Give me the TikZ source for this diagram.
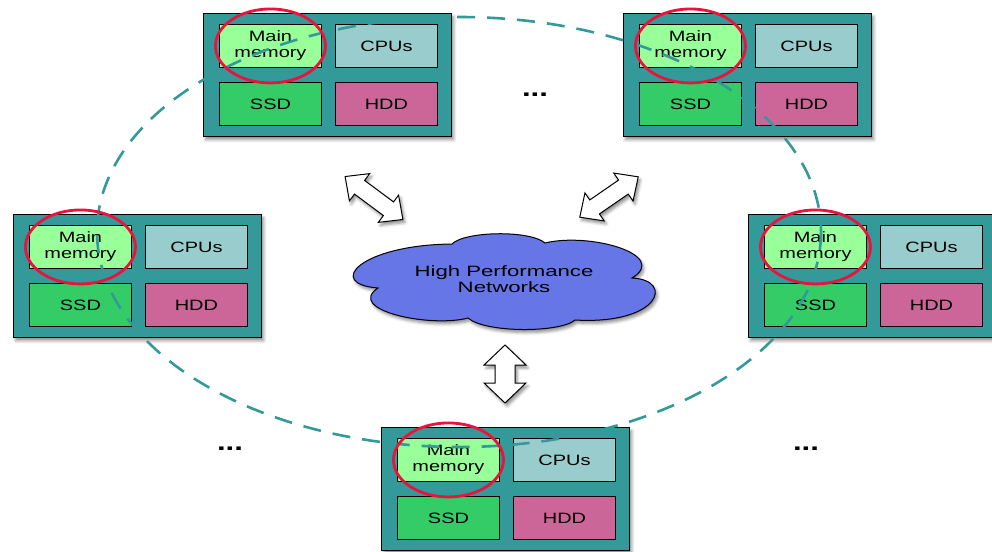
\documentclass[tikz,border=0pt]{standalone}
\usepackage{fontspec}
\usepackage{graphicx}
\setmainfont{Liberation Sans}
\usetikzlibrary{shapes.geometric,shadows.blur}

\definecolor{teal}{RGB}{51,153,153}
\definecolor{memfill}{RGB}{153,255,153}
\definecolor{cpufill}{RGB}{153,204,204}
\definecolor{ssdfill}{RGB}{51,204,102}
\definecolor{hddfill}{RGB}{204,102,153}
\definecolor{netfill}{RGB}{102,118,230}
\definecolor{ringred}{RGB}{236,18,62}

% horizontally widened label text
\newcommand{\wide}[2][1.33]{\scalebox{#1}[1]{#2}}
\newcommand{\lbl}[2][1.33]{\wide[#1]{\begin{tabular}{@{}c@{}}#2\end{tabular}}}

\tikzset{
  softshadow/.style={blur shadow={shadow xshift=2pt, shadow yshift=-3pt,
      shadow blur radius=3pt, shadow opacity=45}},
  serverbox/.style={draw=black, line width=1.3pt, fill=teal, rectangle,
      minimum width=248pt, minimum height=123pt, inner sep=0pt,
      anchor=north west, softshadow},
  partbox/.style={draw=black, line width=0.9pt, rectangle,
      minimum width=102pt, minimum height=43pt, inner sep=0pt,
      anchor=north west, font=\fontsize{15}{16}\selectfont},
  ring/.style={draw=ringred, line width=2.8pt, ellipse,
      minimum width=110pt, minimum height=74pt, inner sep=0pt},
  ringpath/.style={draw=teal, line width=2.6pt, dash pattern=on 18pt off 12pt},
  linkarrow/.style={draw=black, line width=1pt, fill=white, line join=miter,
      softshadow},
  cloudpath/.style={draw=black, line width=1pt, fill=netfill, softshadow},
  dots/.style={font=\fontsize{24}{24}\bfseries\selectfont, inner sep=0pt}
}

% one server: outer box plus its four parts
\newcommand{\server}[3]{%
  \node[serverbox] (#1) at (#2,#3) {};
  \node[partbox, fill=memfill] (#1-mem) at (#2+16,#3+11) {\lbl{Main\\memory}};
  \node[partbox, fill=cpufill] (#1-cpu) at (#2+132,#3+11) {\wide{CPUs}};
  \node[partbox, fill=ssdfill] (#1-ssd) at (#2+16,#3+69) {\wide{SSD}};
  \node[partbox, fill=hddfill] (#1-hdd) at (#2+132,#3+69) {\wide{HDD}};
}

% double-headed block arrow: centre x, centre y, angle, length,
% head half-width, shaft half-width, head length
\newcommand{\blockarrow}[7]{%
  \begin{scope}[shift={(#1,#2)}, rotate=#3]
    \path[linkarrow] (-#4/2,0) -- (-#4/2+#7,#5) -- (-#4/2+#7,#6)
      -- (#4/2-#7,#6) -- (#4/2-#7,#5) -- (#4/2,0) -- (#4/2-#7,-#5)
      -- (#4/2-#7,-#6) -- (-#4/2+#7,-#6) -- (-#4/2+#7,-#5) -- cycle;
  \end{scope}
}

\begin{document}
\begin{tikzpicture}[x=1pt,y=-1pt]
\useasboundingbox (0,0) rectangle (992,551);
\clip (0,0) rectangle (992,551);

% servers
\server{tl}{203}{13}
\server{tr}{623}{13}
\server{lf}{13}{214}
\server{rt}{748}{214}
\server{bt}{381}{427}

% network cloud
\path[cloudpath] (378,288)
  .. controls (325,284) and (360,245) .. (452,244)
  .. controls (465,231) and (530,230) .. (545,243)
  .. controls (590,232) and (670,255) .. (632,278)
  .. controls (675,280) and (660,325) .. (575,320)
  .. controls (560,333) and (485,333) .. (468,318)
  .. controls (430,328) and (345,310) .. (378,288) -- cycle;
\node[font=\fontsize{15}{16}\selectfont, inner sep=0pt]
  (net) at (504,281) {\lbl[1.48]{High Performance\\Networks}};

% links to the network
\blockarrow{374}{198}{-36.6}{72}{17}{8.5}{18}
\blockarrow{609}{197}{34.6}{71}{17}{8.5}{18}
\blockarrow{505}{374}{90}{58}{21}{10}{20}

% more servers
\node[dots] (d1) at (535,95) {\wide[1.3]{...}};
\node[dots] (d2) at (230,449) {\wide[1.3]{...}};
\node[dots] (d3) at (806,449) {\wide[1.3]{...}};

% ring through the main memories
\coordinate (rc) at (459,232);
\draw[ringpath] (rc) ellipse [x radius=362, y radius=215];

% highlighted main memories
\foreach \s in {tl,tr,lf,rt,bt}
  \node[ring] (\s-ring) at (\s-mem) {};
\end{tikzpicture}
\end{document}
